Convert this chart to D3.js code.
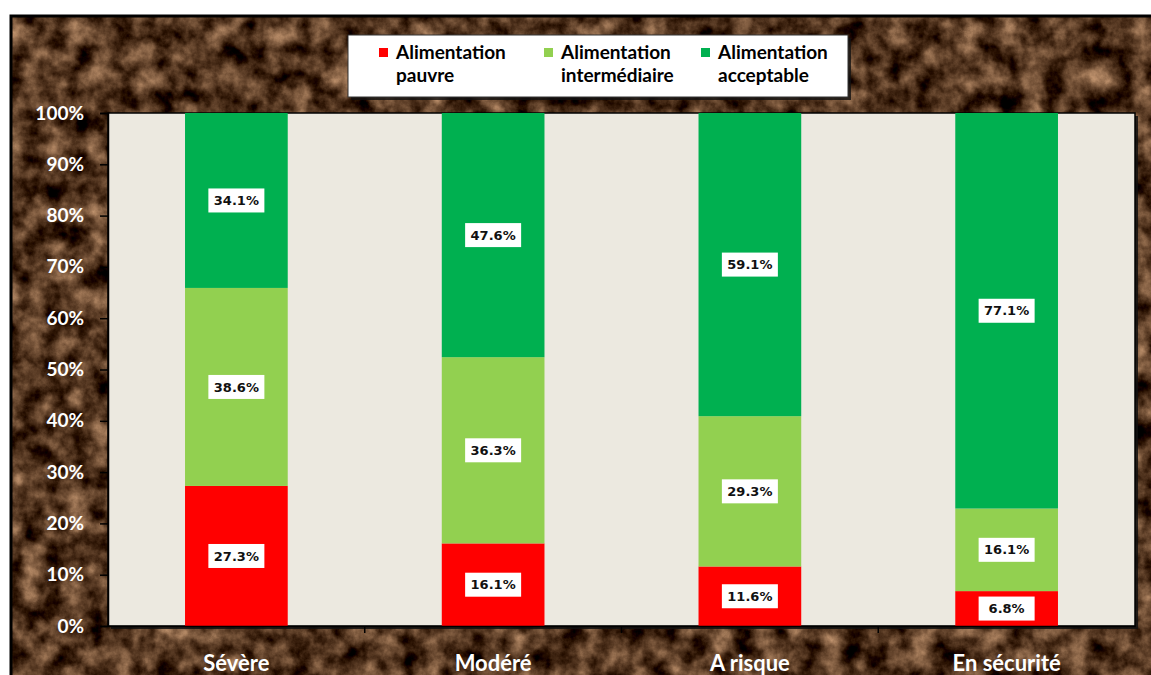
<!DOCTYPE html>
<html><head><meta charset="utf-8">
<script src="https://cdn.jsdelivr.net/npm/d3@7"></script>
<style>body{margin:0;background:#fff;}svg{display:block;}</style>
</head><body>
<script>
const categories = ["Sévère", "Modéré", "A risque", "En sécurité"];
const seriesNames = ["Alimentation pauvre", "Alimentation intermédiaire", "Alimentation acceptable"];
const pauvre = [27.3, 16.1, 11.6, 6.8];
const intermediaire = [38.6, 36.3, 29.3, 16.1];
const acceptable = [34.1, 47.6, 59.1, 77.1];
const yTicks = [0, 10, 20, 30, 40, 50, 60, 70, 80, 90, 100];
const colors = ["#FF0000", "#92D050", "#00B050"];

const W = 1151, H = 675;
const svg = d3.select("body").append("svg").attr("width", W).attr("height", H);
const defs = svg.append("defs");
const f = defs.append("filter").attr("id", "marble").attr("x", 0).attr("y", 0).attr("width", "100%").attr("height", "100%")
  .attr("color-interpolation-filters", "sRGB");
f.append("feTurbulence").attr("type", "fractalNoise").attr("baseFrequency", "0.045").attr("numOctaves", 5).attr("seed", 3).attr("result", "n");
f.append("feColorMatrix").attr("in", "n").attr("type", "matrix")
  .attr("values", "1.05 0 0 0 -0.20  0.9 0 0 0 -0.24  0.75 0 0 0 -0.25  0 0 0 0 1");

// frame
svg.append("rect").attr("x", 11).attr("y", 16).attr("width", W - 11).attr("height", H - 16)
  .attr("filter", "url(#marble)");
svg.append("rect").attr("x", 11).attr("y", 16).attr("width", W + 10).attr("height", H + 10)
  .attr("fill", "none").attr("stroke", "#000").attr("stroke-width", 3);

const m = {left: 108, right: 1135, top: 113, bottom: 626};
const x = d3.scaleBand().domain(categories).range([m.left, m.right]).paddingInner(0.6).paddingOuter(0.3);
const y = d3.scaleLinear().domain([0, 100]).range([m.bottom, m.top]);

// plot area with shadow
svg.append("rect").attr("x", m.left + 3).attr("y", m.top + 3).attr("width", m.right - m.left).attr("height", m.bottom - m.top)
  .attr("fill", "#111").attr("opacity", 0.85);
svg.append("rect").attr("x", m.left).attr("y", m.top).attr("width", m.right - m.left).attr("height", m.bottom - m.top)
  .attr("fill", "#ECE9E0").attr("stroke", "#000").attr("stroke-width", 1.5);

const rows = categories.map((c, i) => ({cat: c, s0: pauvre[i], s1: intermediaire[i], s2: acceptable[i]}));
const stack = d3.stack().keys(["s0", "s1", "s2"])(rows);

const g = svg.append("g");
stack.forEach((layer, li) => {
  g.selectAll(null).data(layer).enter().append("rect")
    .attr("x", d => x(d.data.cat)).attr("width", x.bandwidth())
    .attr("y", d => y(d[1])).attr("height", d => y(d[0]) - y(d[1]))
    .attr("fill", colors[li]);
});
stack.forEach((layer, li) => {
  layer.forEach(d => {
    const cx = x(d.data.cat) + x.bandwidth() / 2;
    const cy = y((d[0] + d[1]) / 2);
    const v = d[1] - d[0];
    svg.append("rect").attr("x", cx - 28).attr("y", cy - 12).attr("width", 56).attr("height", 24).attr("fill", "#fff");
    svg.append("text").attr("x", cx).attr("y", cy).attr("dy", "0.36em").attr("text-anchor", "middle")
      .attr("font-family", "DejaVu Sans").attr("font-weight", "bold").attr("font-size", 13).attr("fill", "#111")
      .text(v.toFixed(1) + "%");
  });
});

// axes
const yAxis = svg.append("g").attr("transform", `translate(${m.left},0)`)
  .call(d3.axisLeft(y).tickValues(yTicks).tickFormat(d => d + "%").tickSize(8).tickPadding(16));
yAxis.select(".domain").attr("stroke", "#000").attr("stroke-width", 1.5);
yAxis.selectAll(".tick line").attr("stroke", "#000").attr("stroke-width", 1.5);
yAxis.selectAll(".tick text").attr("fill", "#fff").attr("font-family", "Lato").attr("font-weight", "bold").attr("font-size", 19);

const xAxis = svg.append("g").attr("transform", `translate(0,${m.bottom})`)
  .call(d3.axisBottom(x).tickSize(0).tickPadding(29));
xAxis.select(".domain").attr("stroke", "#000").attr("stroke-width", 1.5);
xAxis.selectAll(".tick text").attr("fill", "#fff").attr("font-family", "Lato").attr("font-weight", "bold").attr("font-size", 22);
const step = x.step();
const bounds = d3.range(1, categories.length).map(i => x(categories[i]) - step * x.paddingInner() / 2);
xAxis.selectAll(".bt").data(bounds).enter().append("line").attr("x1", d => d).attr("x2", d => d)
  .attr("y1", 0).attr("y2", 7).attr("stroke", "#000").attr("stroke-width", 1.5);

// legend
const L = {x: 348, y: 35, w: 500, h: 62};
svg.append("rect").attr("x", L.x + 3).attr("y", L.y + 3).attr("width", L.w).attr("height", L.h).attr("fill", "#111").attr("opacity", 0.8);
svg.append("rect").attr("x", L.x).attr("y", L.y).attr("width", L.w).attr("height", L.h).attr("fill", "#fff").attr("stroke", "#333").attr("stroke-width", 1);
const legX = [379, 544, 701];
seriesNames.forEach((name, i) => {
  const parts = name.split(" ");
  svg.append("rect").attr("x", legX[i]).attr("y", 48).attr("width", 9).attr("height", 9).attr("fill", colors[i]);
  const t = svg.append("text").attr("x", legX[i] + 17).attr("y", 59)
    .attr("font-family", "Lato").attr("font-weight", "bold").attr("font-size", 19).attr("fill", "#000");
  t.append("tspan").attr("x", legX[i] + 17).attr("dy", 0).text(parts[0]);
  t.append("tspan").attr("x", legX[i] + 17).attr("dy", 23).text(parts.slice(1).join(" "));
});
</script>
</body></html>
